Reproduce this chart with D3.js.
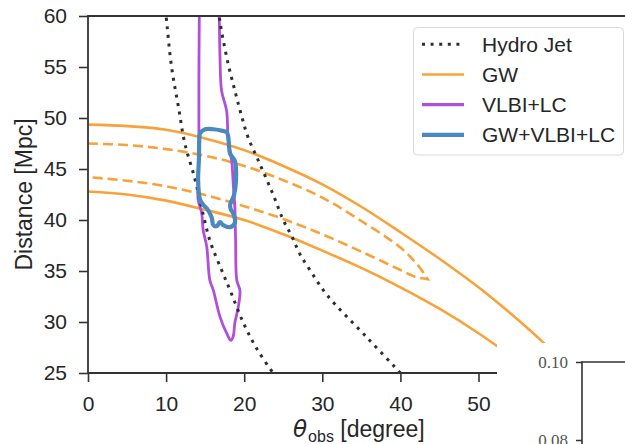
<!DOCTYPE html>
<html><head><meta charset="utf-8">
<script src="https://cdn.jsdelivr.net/npm/d3@7"></script>
<style>body{margin:0;background:#fff}svg{display:block}</style>
</head><body>
<svg id="c" width="625" height="444"></svg>
<script>
// ---- data (theta_obs [deg], distance [Mpc]) ----
const xTicks = [0,10,20,30,40,50];
const yTicks = [25,30,35,40,45,50,55,60];
const legendLabels = ["Hydro Jet","GW","VLBI+LC","GW+VLBI+LC"];
const hydroLeft = [[9.8,61.5],[10.0,60],[10.7,55],[11.6,51],[12.4,47.5],[13.7,44],[14.55,41.2],[15.6,38],[17.1,35.1],[18.2,33.1],[19.9,29.9],[21.6,27.4],[23.7,25],[24.2,24.5]];
const hydroRight = [[16.6,61.5],[16.8,60],[17.1,58.5],[17.95,55.3],[18.8,52.7],[19.7,50.1],[20.5,48.1],[22.0,45.5],[23.7,42.5],[25.0,40.0],[26.1,38.4],[27.1,36.7],[28.5,35.0],[30.6,32.65],[35.7,28.5],[40,25],[40.6,24.5]];
const gwOuterUpper = [[0,49.35],[5,49.2],[10,48.85],[15,48.0],[20,46.85],[25,45.3],[30,43.5],[35,41.3],[40,38.8],[45,36.2],[50,33.4],[54,30.9],[58,28.2],[62,25.2],[64,23]];
const gwOuterLower = [[0,42.8],[5,42.5],[10,41.9],[15,41.0],[20,40.0],[25,38.6],[30,37.0],[35,35.3],[40,33.4],[45,31.3],[50,28.9],[55,26.2],[58,24.5],[60,23]];
const gwInnerUpper = [[0,47.5],[5,47.35],[10,46.95],[15,46.3],[20,45.3],[25,43.9],[30,42.2],[35,39.9],[40,37.3],[42.2,35.6],[43.5,34.2]];
const gwInnerLower = [[0,44.2],[5,43.85],[10,43.3],[15,42.45],[20,41.35],[25,40.1],[30,38.6],[35,36.9],[40,35.1],[42,34.4],[43.5,34.2]];
const vlbi = [[14.25,62],[14.25,60],[14.2,54],[14.2,48.4],[14.1,43.5],[14.1,42.0],[14.55,40.7],[14.75,39.0],[15.2,37.4],[15.6,34.1],[16.05,33.1],[16.9,30.5],[17.75,28.9],[18.3,28.2],[18.6,28.6],[18.8,29.9],[19.25,31.5],[19.45,33.1],[19.05,34.1],[18.9,38],[18.8,41.3],[18.6,43.5],[18.4,45.8],[17.95,47.8],[17.75,50.7],[17.1,52.7],[16.9,56],[16.8,60],[16.7,62]];
const combined = [[14.25,47.8],[14.35,48.5],[15.0,48.9],[16.05,48.9],[16.9,48.8],[17.75,48.6],[17.95,48.2],[18.05,47.35],[18.2,46.5],[18.8,45.8],[18.95,43.9],[18.7,42.45],[18.2,41.5],[18.3,41.0],[18.6,40.65],[18.8,39.7],[18.2,39.3],[17.3,39.5],[16.9,39.8],[16.5,39.4],[16.05,39.5],[15.85,40.2],[15.6,40.65],[15.2,41.15],[14.75,41.5],[14.35,42.0],[14.1,43.9],[14.2,45.9]];
const insetTicks = [0.08, 0.10];

// ---- layout ----
const svg = d3.select("#c");
const x = d3.scaleLinear().domain([0,70]).range([88, 88+70*7.81]);
const y = d3.scaleLinear().domain([25,60]).range([373,16]);
const X0 = x(0), X1 = x(70), Y0 = y(25), Y1 = y(60);
const txt = "#262626", spine = "#333";
const cOrange = "#f9a23a", cPurple = "#b04fdc", cBlue = "#4a88c0", cDot = "#2e2e2e";

svg.append("defs").append("clipPath").attr("id","pc")
  .append("rect").attr("x",X0).attr("y",Y1).attr("width",X1-X0).attr("height",Y0-Y1);

const g = svg.append("g").attr("clip-path","url(#pc)");
const line = d3.line().x(d=>x(d[0])).y(d=>y(d[1])).curve(d3.curveCatmullRom.alpha(0.5));
const closed = d3.line().x(d=>x(d[0])).y(d=>y(d[1])).curve(d3.curveCatmullRomClosed.alpha(0.5));

// GW contours
g.append("path").attr("d", line(gwOuterUpper.concat(gwOuterLower.slice().reverse())))
  .attr("fill","none").attr("stroke",cOrange).attr("stroke-width",2.6);
g.append("path").attr("d", line(gwInnerUpper.concat(gwInnerLower.slice().reverse())))
  .attr("fill","none").attr("stroke",cOrange).attr("stroke-width",2.6)
  .attr("stroke-dasharray","10,5");
// VLBI+LC
g.append("path").attr("d", closed(vlbi))
  .attr("fill","none").attr("stroke",cPurple).attr("stroke-width",2.8);
// Hydro jet
[hydroLeft, hydroRight].forEach(d=>{
  g.append("path").attr("d", line(d)).attr("fill","none")
   .attr("stroke",cDot).attr("stroke-width",3).attr("stroke-dasharray","3,5.6");
});
// GW+VLBI+LC
g.append("path").attr("d", closed(combined))
  .attr("fill","none").attr("stroke",cBlue).attr("stroke-width",4.2)
  .attr("stroke-linejoin","round");

// axes
const font = "'Liberation Sans', Arial, sans-serif";
const ax = svg.append("g").attr("transform",`translate(0,${Y0})`)
  .call(d3.axisBottom(x).tickValues(xTicks).tickSize(9).tickPadding(14).tickFormat(d3.format("d")));
const ay = svg.append("g").attr("transform",`translate(${X0},0)`)
  .call(d3.axisLeft(y).tickValues(yTicks).tickSize(9).tickPadding(12).tickFormat(d3.format("d")));
[ax, ay].forEach(a=>{
  a.select(".domain").remove();
  a.selectAll(".tick line").attr("stroke",spine).attr("stroke-width",1.6);
  a.selectAll(".tick text").attr("fill",txt).attr("font-size",21).attr("font-family",font);
});
// spines
svg.append("line").attr("x1",X0).attr("x2",X0).attr("y1",Y1-1).attr("y2",Y0+1).attr("stroke",spine).attr("stroke-width",1.8);
svg.append("line").attr("x1",X0).attr("x2",X1).attr("y1",Y0).attr("y2",Y0).attr("stroke",spine).attr("stroke-width",1.8);
svg.append("line").attr("x1",X0).attr("x2",X1).attr("y1",Y1).attr("y2",Y1).attr("stroke",spine).attr("stroke-width",1.8);

// axis labels
svg.append("text").attr("transform",`translate(32,${(Y0+Y1)/2}) rotate(-90)`)
  .attr("text-anchor","middle").attr("font-family",font).attr("font-size",23).attr("fill",txt)
  .text("Distance [Mpc]");
const xl = svg.append("text").attr("x",293).attr("y",437).attr("font-family",font).attr("font-size",23).attr("fill",txt);
xl.append("tspan").attr("font-family","'DejaVu Sans', sans-serif").attr("font-style","italic").text("θ");
xl.append("tspan").attr("font-size",16).attr("dy",5).attr("dx",1).text("obs");
xl.append("tspan").attr("dy",-5).text(" [degree]");

// legend
const lg = svg.append("g");
lg.append("rect").attr("x",413.5).attr("y",27.5).attr("width",210).attr("height",127.5).attr("rx",4)
  .attr("fill","#fff").attr("fill-opacity",0.85).attr("stroke","#d9d9d9").attr("stroke-width",1);
const lstyles = [
  {c:cDot, w:3, dash:"3,5.6"},
  {c:cOrange, w:2.6, dash:null},
  {c:cPurple, w:3.2, dash:null},
  {c:cBlue, w:4.4, dash:null}];
legendLabels.forEach((t,i)=>{
  const cy = 44.3 + i*30.2;
  const l = lg.append("line").attr("x1",422).attr("x2",464).attr("y1",cy).attr("y2",cy)
    .attr("stroke",lstyles[i].c).attr("stroke-width",lstyles[i].w);
  if (lstyles[i].dash) l.attr("stroke-dasharray",lstyles[i].dash);
  lg.append("text").attr("x",482).attr("y",cy).attr("dy","0.36em").attr("font-family",font)
    .attr("font-size",21).attr("fill",txt).text(t);
});

// inset (partially visible)
svg.append("rect").attr("x",497).attr("y",343).attr("width",140).attr("height",110).attr("fill","#fff");
const iy = d3.scaleLinear().domain([0.08,0.10]).range([440,362]);
const ia = svg.append("g").attr("transform","translate(582,0)")
  .call(d3.axisLeft(iy).tickValues(insetTicks).tickSize(6).tickPadding(8).tickFormat(d3.format(".2f")));
ia.select(".domain").remove();
ia.selectAll(".tick line").attr("stroke",spine).attr("stroke-width",1.5);
ia.selectAll(".tick text").attr("fill","#555").attr("font-size",17).attr("font-family","'Liberation Serif', serif");
svg.append("line").attr("x1",582).attr("x2",582).attr("y1",361.5).attr("y2",450).attr("stroke",spine).attr("stroke-width",1.6);
svg.append("line").attr("x1",581.2).attr("x2",640).attr("y1",362).attr("y2",362).attr("stroke",spine).attr("stroke-width",1.6);
</script>
</body></html>
